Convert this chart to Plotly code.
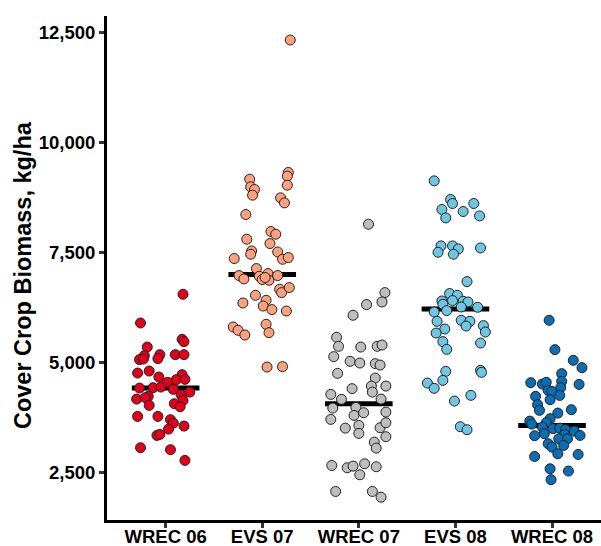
import plotly.graph_objects as go

categories = ["WREC 06", "EVS 07", "WREC 07", "EVS 08", "WREC 08"]
colors = ["#E3001B", "#FCA07E", "#BEBEBE", "#6EC6E2", "#0A6EB4"]

wrec06 = [6557, 5905, 5534, 5482, 5359, 5186, 5164, 5186, 5186, 5073, 5086, 5096, 4768, 4814, 4678,
          4732, 4618, 4625, 4557, 4427, 4436, 4450, 4398, 4336, 4277, 4239, 4177, 4209, 4148, 4072,
          4034, 4004, 3784, 3784, 3709, 3632, 3564, 3496, 3352, 3375, 3073, 3028, 2785]
wrec06_jit = [0.18, -0.26, 0.17, 0.19, -0.19, -0.06, -0.22, 0.10, 0.19, -0.27, -0.23, -0.08, -0.29, -0.17, -0.07,
              0.17, 0.11, 0.20, 0.02, -0.27, -0.13, -0.05, 0.08, 0.25, 0.16, -0.18, -0.30, -0.21, 0.18, 0.09,
              -0.17, 0.15, -0.29, -0.08, 0.05, 0.08, 0.19, 0.03, -0.09, -0.06, -0.26, 0.05, 0.20]

evs07 = [9323, 9239, 9034, 9170, 8996, 8936, 8807, 8746, 8632, 8368, 7982, 7921, 7807, 7709, 7541,
         7466, 7518, 7352, 7391, 7368, 7141, 6982, 6905, 6966, 6891, 7027, 6875, 6982, 6937, 6670,
         6595, 6709, 6534, 6420, 6359, 6291, 6209, 6177, 5814, 5739, 5632, 5875, 5686, 4905, 4914, 12330]
evs07_jit = [0.27, 0.26, 0.26, -0.13, -0.12, -0.08, -0.10, 0.19, 0.23, -0.17, 0.09, 0.14, -0.16, 0.08, -0.11,
             -0.12, 0.16, 0.21, 0.27, -0.29, -0.06, -0.24, -0.19, -0.03, 0.00, 0.06, 0.07, 0.16, 0.03, 0.18,
             0.20, 0.28, -0.07, 0.04, -0.20, 0.01, 0.10, 0.25, -0.30, -0.25, -0.18, 0.04, 0.07, 0.05, 0.21, 0.29]

wrec07 = [8148, 6595, 6382, 6323, 6080, 5580, 5375, 5359, 5375, 5405, 5141, 5034, 4996, 4982, 4950,
          4761, 4655, 4414, 4473, 4473, 4336, 4284, 4171, 4177, 3973, 3989, 3716, 3807, 3868, 3882,
          3579, 3518, 3527, 3641, 3398, 3323, 3200, 3064, 2670, 2618, 2655, 2709, 2641, 2459, 2080,
          2080, 1950]
wrec07_jit = [0.10, 0.27, 0.24, 0.08, -0.06, -0.23, -0.21, 0.02, 0.19, 0.24, -0.26, -0.09, 0.01, 0.17, 0.22,
              -0.22, 0.17, -0.07, 0.13, 0.28, 0.14, -0.29, -0.18, 0.23, -0.27, -0.03, -0.29, -0.05, 0.05, 0.28,
              0.00, -0.14, 0.22, 0.28, 0.00, 0.28, 0.16, 0.18, -0.28, -0.12, -0.06, 0.06, 0.18, 0.01, -0.24,
              0.14, 0.23]

evs08 = [9132, 8709, 8618, 8482, 8291, 8436, 8618, 8336, 7655, 7511, 7655, 7586, 7466, 7609, 6845,
         6573, 6534, 6405, 6414, 6398, 6382, 6330, 6268, 6262, 6186, 6155, 5943, 5966, 5943, 5836,
         5768, 5677, 5845, 5700, 5482, 5307, 5450, 4807, 4830, 4784, 4602, 4541, 4421, 4262, 4132,
         3550, 3482]
evs08_jit = [-0.22, -0.05, -0.03, -0.14, -0.10, 0.08, 0.19, 0.25, -0.15, -0.18, -0.03, 0.03, -0.02, 0.26, 0.12,
             -0.06, 0.02, -0.14, -0.03, 0.08, 0.13, -0.13, 0.06, 0.23, -0.09, -0.22, -0.19, 0.06, 0.15, 0.11,
             -0.11, -0.20, 0.29, 0.31, -0.13, -0.09, 0.26, -0.10, 0.26, 0.27, -0.13, -0.29, -0.22, 0.16, -0.01,
             0.05, 0.12]

wrec08 = [5966, 5300, 5057, 4891, 4755, 4550, 4518, 4557, 4580, 4511, 4436, 4375, 4352, 4239, 4261,
          4164, 4050, 3921, 3936, 3859, 3732, 3677, 3609, 3641, 3541, 3505, 3518, 3482, 3450, 3391,
          3346, 3375, 3352, 3277, 3277, 3164, 3086, 3125, 2875, 2936, 2920, 2595, 2543, 2348]
wrec08_jit = [-0.03, 0.03, 0.22, 0.31, 0.10, -0.22, -0.10, -0.06, 0.10, 0.28, 0.09, -0.04, 0.00, -0.17, 0.08,
              -0.02, -0.15, -0.13, 0.20, 0.06, -0.02, -0.23, -0.21, -0.06, -0.10, 0.01, 0.08, 0.14, 0.23, -0.08,
              -0.18, 0.13, 0.29, 0.07, 0.16, -0.04, 0.00, 0.12, -0.18, 0.06, 0.27, -0.02, 0.17, -0.01]

medians = [4427, 7004, 4072, 6223, 3579]
y_ticks = [2500, 5000, 7500, 10000, 12500]

groups = [wrec06, evs07, wrec07, evs08, wrec08]
jitters = [wrec06_jit, evs07_jit, wrec07_jit, evs08_jit, wrec08_jit]

FONT = "Liberation Sans, Arial, sans-serif"
fig = go.Figure()

half = 0.35
for i, m in enumerate(medians):
    fig.add_trace(go.Scatter(
        x=[i - half, i + half], y=[m, m], mode="lines",
        line=dict(color="black", width=5), showlegend=False, hoverinfo="skip"))

for i, (vals, jit) in enumerate(zip(groups, jitters)):
    fig.add_trace(go.Scatter(
        x=[i + j for j in jit], y=vals, mode="markers",
        marker=dict(size=10, color=colors[i], line=dict(color="#222222", width=1)),
        name=categories[i], showlegend=False))

fig.update_layout(
    width=601, height=546,
    margin=dict(l=107, r=0, t=16, b=26),
    paper_bgcolor="white", plot_bgcolor="white",
    font=dict(family=FONT, color="black"),
    xaxis=dict(
        range=[-0.607, 4.507], tickvals=list(range(len(categories))), ticktext=categories,
        showgrid=False, zeroline=False, showline=True, linecolor="black", linewidth=3,
        ticks="outside", ticklen=5, tickwidth=2.5, tickcolor="#333333",
        ticklabelstandoff=-7,
        tickfont=dict(family=FONT, size=18.5, color="black", weight="bold"),
        automargin=False),
    yaxis=dict(
        range=[1432, 12875], tickvals=y_ticks, tickformat=",",
        showgrid=False, zeroline=False, showline=True, linecolor="black", linewidth=3,
        ticks="outside", ticklen=5, tickwidth=2.5, tickcolor="#333333",
        tickfont=dict(family=FONT, size=18.5, color="black", weight="bold"),
        automargin=False),
    annotations=[dict(
        text="Cover Crop Biomass, kg/ha", textangle=-90,
        xref="paper", yref="paper", x=-0.17, y=0.486, xanchor="center", yanchor="middle",
        showarrow=False, font=dict(family=FONT, size=23.5, color="black", weight="bold"))],
)

fig.write_html("out.html")
